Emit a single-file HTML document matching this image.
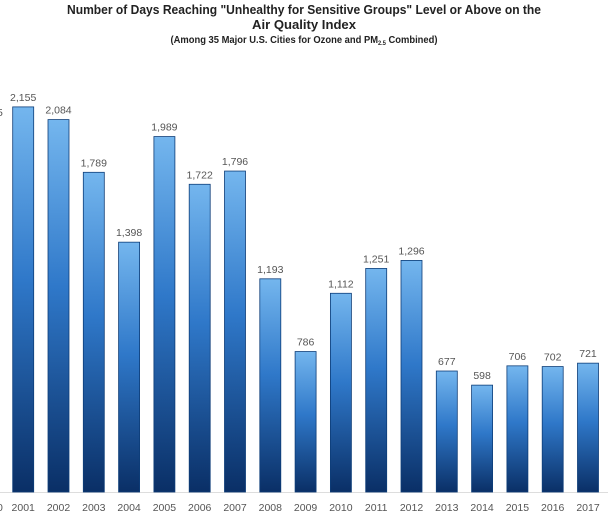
<!DOCTYPE html>
<html><head><meta charset="utf-8"><style>
html,body{margin:0;padding:0;background:#fff;}
svg{display:block;font-family:"Liberation Sans",sans-serif;}
</style></head><body>
<svg width="608" height="515" viewBox="0 0 608 515" xmlns="http://www.w3.org/2000/svg">
<defs>
<linearGradient id="g" x1="0" y1="0" x2="0" y2="1">
<stop offset="0" stop-color="#74b6ee"/>
<stop offset="0.45" stop-color="#2f78c9"/>
<stop offset="1" stop-color="#0a2f66"/>
</linearGradient>
</defs>
<text x="304" y="14" text-anchor="middle" font-size="13" font-weight="bold" fill="#222" textLength="474" lengthAdjust="spacingAndGlyphs">Number of Days Reaching "Unhealthy for Sensitive Groups" Level or Above on the</text>
<text x="304" y="29" text-anchor="middle" font-size="13" font-weight="bold" fill="#222" textLength="104" lengthAdjust="spacingAndGlyphs">Air Quality Index</text>
<text x="304" y="43" text-anchor="middle" font-size="10" font-weight="bold" fill="#222" textLength="267" lengthAdjust="spacingAndGlyphs">(Among 35 Major U.S. Cities for Ozone and PM<tspan font-size="6" dy="2">2.5</tspan><tspan dy="-2"> Combined)</tspan></text>
<line x1="0" y1="492.5" x2="608" y2="492.5" stroke="#ddd"/>
<text x="-3" y="116" font-size="10.5" fill="#555">5</text>
<text x="-3" y="511" font-size="10.5" fill="#555">0</text>
<g id="bars" font-size="10.5" fill="#555" text-anchor="middle"></g>
</svg>
<script>
var v=[2155,2084,1789,1398,1989,1722,1796,1193,786,1112,1251,1296,677,598,706,702,721];
var g=document.getElementById('bars'),ns='http://www.w3.org/2000/svg';
v.forEach(function(d,i){
var x=12.7+35.3*i,h=d*0.1787,y=492-h;
var r=document.createElementNS(ns,'rect');
r.setAttribute('x',x);r.setAttribute('y',y);r.setAttribute('width',21);r.setAttribute('height',h);
r.setAttribute('fill','url(#g)');r.setAttribute('stroke','#0d3d78');r.setAttribute('stroke-width','0.8');
g.appendChild(r);
var t=document.createElementNS(ns,'text');
t.setAttribute('x',x+10.5);t.setAttribute('y',y-6);
t.textContent=d>=1000?(Math.floor(d/1000)+','+String(d%1000).padStart(3,'0')):d;
g.appendChild(t);
var yl=document.createElementNS(ns,'text');
yl.setAttribute('x',x+10.5);yl.setAttribute('y',511);yl.textContent=2001+i;
g.appendChild(yl);
});
</script>
</body></html>
